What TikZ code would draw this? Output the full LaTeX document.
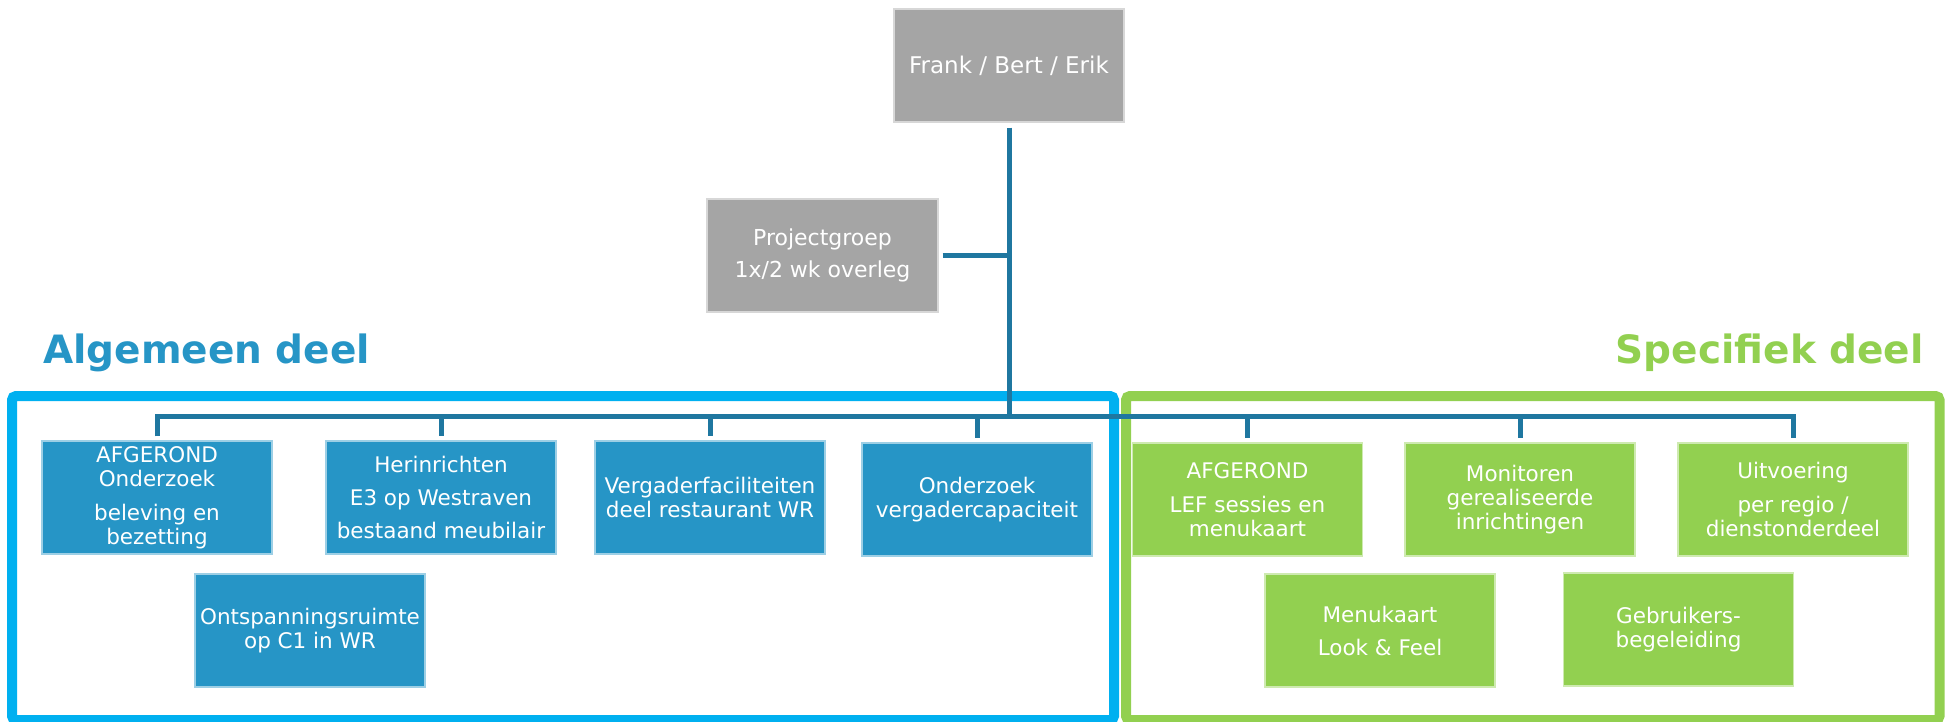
\documentclass[tikz,border=0pt]{standalone}
\usepackage{fontspec}
\setmainfont{DejaVu Sans}
\usepackage{tikz}
\usetikzlibrary{calc}
\usetikzlibrary{positioning}

\definecolor{boxgray}{RGB}{165,165,165}
\definecolor{boxblue}{RGB}{38,149,198}
\definecolor{boxgreen}{RGB}{146,208,80}
\definecolor{frameblue}{RGB}{0,176,240}
\definecolor{linkblue}{RGB}{31,119,160}

\begin{document}
\begin{tikzpicture}
		[
		x=1pt, y=-1pt,
		font=\fontsize{21.5}{24}\selectfont
		]
		
		% Box styles: gray, blue and green
		\tikzstyle{task}=[rectangle, minimum width=230pt, minimum height=113pt, inner sep=0, align=center, text=white, line width=1.2pt];
		\tikzstyle{gray task}=[task, fill=boxgray, draw=boxgray!45!white];
		\tikzstyle{blue task}=[task, fill=boxblue, draw=boxblue!45!white];
		\tikzstyle{green task}=[task, fill=boxgreen, draw=boxgreen!45!white];
		% Frames, titles and connectors
		\tikzstyle{frame}=[line width=10pt, rounded corners=4pt];
		\tikzstyle{title}=[inner sep=0, font=\bfseries\fontsize{39}{44}\selectfont];
		\tikzstyle{link}=[draw=linkblue, line width=5pt];
		
		\useasboundingbox (0,0) rectangle (1952,721);
		
		% The frames
		\draw[frame, draw=frameblue](12,396) rectangle (1114,720);
		\draw[frame, draw=boxgreen](1126,396) rectangle (1939.5,720);
		\node(alg)[title, text=boxblue, anchor=base west]at(43,363){Algemeen deel};
		\node(spec)[title, text=boxgreen, anchor=base east]at(1924,363){Specifiek deel};
		
		% Steering
		\node(top)[gray task, font=\fontsize{23}{26}\selectfont]at(1009,65.5){Frank / Bert / Erik};
		\node(pg)[gray task, minimum width=231pt, font=\fontsize{22}{24}\selectfont]at(822.5,255.5){Projectgroep\\[8pt]1x/2 wk overleg};
		
		% Algemeen deel
		\node(a1)[blue task]at(157,497.5){AFGEROND\\Onderzoek\\[10pt]beleving en\\bezetting};
		\node(a2)[blue task]at(441,497.5){Herinrichten\\[9pt]E3 op Westraven\\[9pt]bestaand meubilair};
		\node(a3)[blue task]at(710,497.5){Vergaderfaciliteiten\\deel restaurant WR};
		\node(a4)[blue task]at(977,499.5){Onderzoek\\vergadercapaciteit};
		\node(a5)[blue task]at(310,630.5){Ontspanningsruimte\\op C1 in WR};
		
		% Specifiek deel
		\node(s1)[green task]at(1247.5,499.5){AFGEROND\\[10pt]LEF sessies en\\menukaart};
		\node(s2)[green task]at(1520,499.5){Monitoren\\gerealiseerde\\inrichtingen};
		\node(s3)[green task]at(1793,499.5){Uitvoering\\[10pt]per regio /\\dienstonderdeel};
		\node(s4)[green task]at(1380,630.5){Menukaart\\[9pt]Look \& Feel};
		\node(s5)[green task]at(1678.5,629.5){Gebruikers-\\begeleiding};
		
		% Connectors
		\coordinate(hub)at(1009,416);
		\draw[link]([yshift=-5pt]top.south)--(hub);
		\draw[link]([xshift=4pt]pg.east)--(pg.east -| hub);
		\draw[link]([yshift=4pt]a1.north)--(a1.north |- hub)--(s3.north |- hub)--([yshift=4pt]s3.north);
		\foreach \n in {a2, a3, a4, s1, s2}
			\draw[link](\n.north |- hub)--([yshift=4pt]\n.north);
		
		\end{tikzpicture}
\end{document}
